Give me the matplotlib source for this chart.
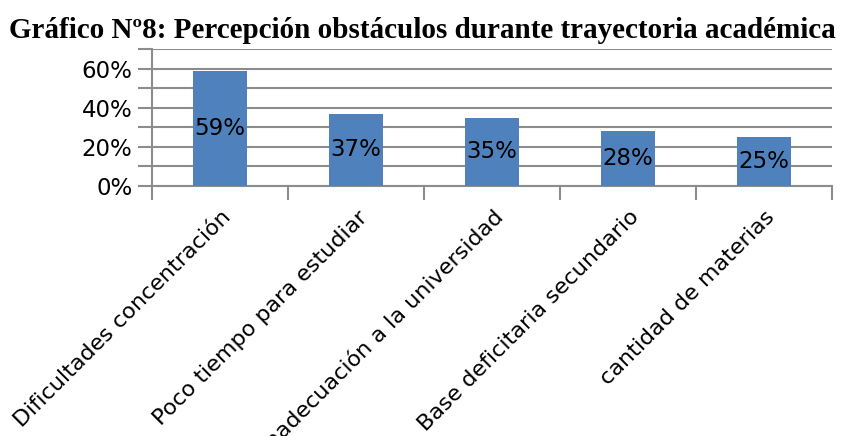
import matplotlib
matplotlib.use("Agg")
import matplotlib.pyplot as plt
import matplotlib.transforms as mtransforms
from matplotlib.ticker import MultipleLocator, FuncFormatter

categories = ["Dificultades concentración", "Poco tiempo para estudiar",
              "Inadecuación a la universidad", "Base deficitaria secundario",
              "cantidad de materias"]
values = [0.59, 0.37, 0.35, 0.28, 0.25]
labels = ["59%", "37%", "35%", "28%", "25%"]
title = "Gráfico Nº8: Percepción obstáculos durante trayectoria académica"

bar_color = "#4F81BD"
grid_color = "#8C8C8C"

fig = plt.figure(figsize=(8.42, 4.36), dpi=100)
ax = fig.add_axes([0.1805, 0.5734, 0.988 - 0.1805, 0.8876 - 0.5734])

x = list(range(len(categories)))
ax.bar(x, values, width=0.4, color=bar_color, zorder=3)
for xi, v, lab in zip(x, values, labels):
    ax.text(xi, v / 2, lab, ha="center", va="center", fontsize=16.5,
            family="DejaVu Sans", color="black", zorder=4)

ax.set_xlim(-0.5, len(categories) - 0.5)
ax.set_ylim(0, 0.7)
ax.yaxis.set_major_locator(MultipleLocator(0.1))
ax.yaxis.set_major_formatter(FuncFormatter(
    lambda v, p: f"{round(v*100)}%" if round(v * 100) % 20 == 0 and v < 0.65 else ""))
ax.grid(axis="y", color=grid_color, linewidth=1.5, zorder=0)

ax.set_xticks([i - 0.5 for i in range(len(categories) + 1)], minor=False)
ax.set_xticklabels([])
ax.set_xticks(x, minor=True)
ax.set_xticklabels(categories, minor=True, rotation=45, ha="right",
                   rotation_mode="anchor", fontsize=16, family="DejaVu Sans")
ax.tick_params(axis="x", which="minor", length=0, pad=15)
ax.tick_params(axis="x", which="major", length=10, width=1.5, color=grid_color)
ax.tick_params(axis="y", length=10, width=1.5, color=grid_color, labelsize=16.5, pad=4)

offset = mtransforms.ScaledTranslation(1 / 100, 0, fig.dpi_scale_trans)
for lab in ax.xaxis.get_minorticklabels():
    lab.set_transform(lab.get_transform() + offset)

for s in ["top", "right"]:
    ax.spines[s].set_visible(False)
ax.spines["left"].set_color(grid_color)
ax.spines["left"].set_linewidth(1.5)
ax.spines["bottom"].set_color(grid_color)
ax.spines["bottom"].set_linewidth(1.5)

fig.text(0.502, 0.913, title, ha="center", va="baseline", fontsize=21,
         family="Liberation Serif", fontweight="bold")

fig.savefig("out.png", dpi=100)
